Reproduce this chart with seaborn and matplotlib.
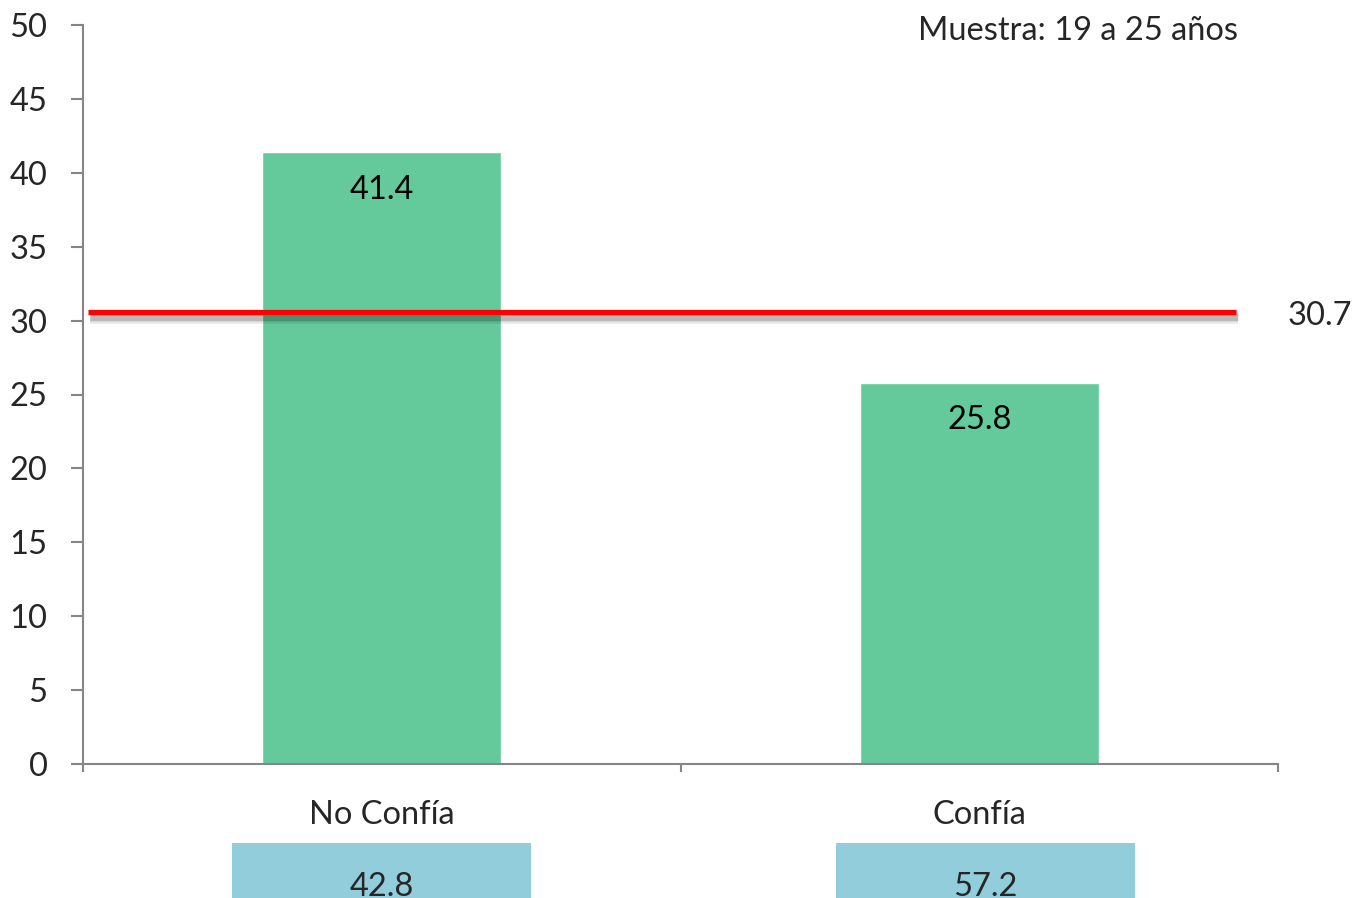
import matplotlib
matplotlib.use('Agg')

import matplotlib.pyplot as plt
import matplotlib.patheffects as pe
from matplotlib.patches import Rectangle
import matplotlib.transforms as mtransforms
import pandas as pd
import seaborn as sns

# ── Data ─────────────────────────────────────────────────────────────────────

categories   = ['No Confía', 'Confía']
values       = [41.4, 25.8]
share_values = [42.8, 57.2]
avg_value    = 30.7
sample_note  = 'Muestra: 19 a 25 años'

BAR_COLOR   = '#64CA9C'
BOX_COLOR   = '#92CDDC'
AXIS_COLOR  = '#868686'
FONT_SIZE   = 23.5

sns.set_theme(style='white')
plt.rcParams['font.family'] = ['Lato', 'DejaVu Sans']

df = pd.DataFrame({'categoria': categories, 'valor': values})

fig = plt.figure(figsize=(13.55, 8.98), dpi=100)
ax = fig.add_axes([83 / 1355, 134 / 898, 1195 / 1355, 739 / 898])

sns.barplot(data=df, x='categoria', y='valor', color=BAR_COLOR, width=0.4,
            saturation=1, ax=ax)

ax.set_xlim(-0.5, 1.5)
ax.set_ylim(0, 50)
ax.set_yticks(range(0, 51, 5))
ax.set_xlabel('')
ax.set_ylabel('')

# Spines
for side in ['top', 'right']:
    ax.spines[side].set_visible(False)
for side in ['left', 'bottom']:
    ax.spines[side].set_color(AXIS_COLOR)
    ax.spines[side].set_linewidth(1.5)

# Ticks: y outside, x at category boundaries
ax.tick_params(axis='y', which='major', direction='out', length=8.5, width=1.5,
               color=AXIS_COLOR, labelsize=FONT_SIZE, pad=17, left=True)
ax.set_xticks([-0.5, 0.5, 1.5])
ax.set_xticklabels([])
ax.tick_params(axis='x', which='major', direction='out', length=6, width=1.5,
               color=AXIS_COLOR, bottom=True)
ax.set_xticks([0, 1], minor=True)
ax.set_xticklabels(categories, minor=True)
ax.tick_params(axis='x', which='minor', length=0, labelsize=FONT_SIZE, pad=26)

# Bar value labels
for i, v in enumerate(values):
    ax.annotate(f'{v}', xy=(i, v), xytext=(0, -27), textcoords='offset points',
                ha='center', va='center', fontsize=FONT_SIZE, color='black')

# Average line with soft shadow
shift_down = ax.transData + mtransforms.ScaledTranslation(0, -2 / 100, fig.dpi_scale_trans)
shadow = [pe.SimpleLineShadow(offset=(1.5, -3.5), shadow_color='black', alpha=a, linewidth=w)
          for a, w in [(0.07, 10), (0.09, 7.5), (0.14, 5)]]
ax.plot([-0.492, 1.43], [avg_value, avg_value], color='#FF0000', lw=3.8,
        solid_capstyle='butt', zorder=5, path_effects=shadow + [pe.Normal()],
        transform=shift_down)
ax.annotate(f'{avg_value}', xy=(1.57, avg_value), xytext=(0, -4), textcoords='offset points',
            ha='center', va='center', fontsize=FONT_SIZE, annotation_clip=False)

# Sample note
ax.text(1.165, 49.6, sample_note, ha='center', va='center', fontsize=FONT_SIZE)

# Share boxes under categories (cut by the figure edge, as in the original)
trans = mtransforms.blended_transform_factory(ax.transData, ax.transAxes)
for i, s in enumerate(share_values):
    xc = i + 0.01 * i
    ax.add_patch(Rectangle((xc - 0.25, -0.107), 0.5, -0.2, transform=trans,
                           facecolor=BOX_COLOR, edgecolor='none', clip_on=False))
    ax.text(xc, -0.167, f'{s}', transform=trans, ha='center', va='center',
            fontsize=FONT_SIZE, clip_on=False)

fig.savefig('out.png', dpi=100)
plt.close(fig)
